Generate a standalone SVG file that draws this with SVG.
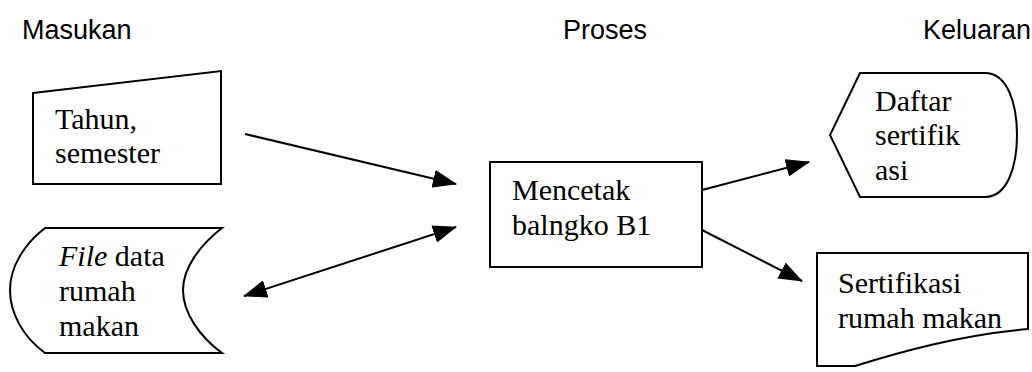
<svg xmlns="http://www.w3.org/2000/svg" width="1032" height="372" viewBox="0 0 1032 372">
<style>
.hdr{font-family:"Liberation Sans",Arial,sans-serif;font-size:27px;fill:#000}
.t{font-family:"Liberation Serif","Times New Roman",serif;font-size:30px;fill:#000}
.shape{fill:#fff;stroke:#000;stroke-width:2}
.conn{fill:none;stroke:#000;stroke-width:2}
</style>
<defs>
<marker id="ah" markerUnits="userSpaceOnUse" markerWidth="24" markerHeight="18" refX="23" refY="9" orient="auto-start-reverse" viewBox="0 0 24 18">
<path d="M0,0 L24,9 L0,18 Z" fill="#000"/>
</marker>
</defs>
<g id="headers">
<text class="hdr" x="22" y="39">Masukan</text>
<text class="hdr" x="563" y="39">Proses</text>
<text class="hdr" x="1031" y="39" text-anchor="end">Keluaran</text>
</g>
<g id="input-tahun">
<path class="shape" d="M33,93 L221,71 L221,184 L33,184 Z"/>
<text class="t" x="55" y="129">Tahun,</text>
<text class="t" x="55" y="163">semester</text>
</g>
<g id="file-data">
<path class="shape" d="M45,228 H222 C200,245 183,268 183,290 C183,313 200,337 222,353 H45 C23,337 10,313 10,290 C10,268 23,245 45,228 Z"/>
<text class="t" x="59" y="266"><tspan font-style="italic">File</tspan> data</text>
<text class="t" x="59" y="301">rumah</text>
<text class="t" x="59" y="336">makan</text>
</g>
<g id="process">
<rect class="shape" x="490" y="162" width="212" height="105"/>
<text class="t" x="512" y="200">Mencetak</text>
<text class="t" x="512" y="235">balngko B1</text>
</g>
<g id="daftar">
<path class="shape" d="M860,73 H985 C1008,73 1017,105 1017,135 C1017,165 1008,197 985,197 H860 L830,135 Z"/>
<text class="t" x="875" y="111">Daftar</text>
<text class="t" x="875" y="145">sertifik</text>
<text class="t" x="875" y="180">asi</text>
</g>
<g id="sertifikasi">
<path class="shape" d="M817,253 H1028 V329 C960,335 900,352 855,366 L817,366 Z"/>
<text class="t" x="838" y="293">Sertifikasi</text>
<text class="t" x="838" y="328">rumah makan</text>
</g>
<g id="connectors">
<line class="conn" x1="245" y1="134" x2="456" y2="184" marker-end="url(#ah)"/>
<line class="conn" x1="244" y1="296" x2="456" y2="227" marker-start="url(#ah)" marker-end="url(#ah)"/>
<line class="conn" x1="702" y1="190" x2="809" y2="162" marker-end="url(#ah)"/>
<line class="conn" x1="702" y1="230" x2="802" y2="281" marker-end="url(#ah)"/>
</g>
</svg>
